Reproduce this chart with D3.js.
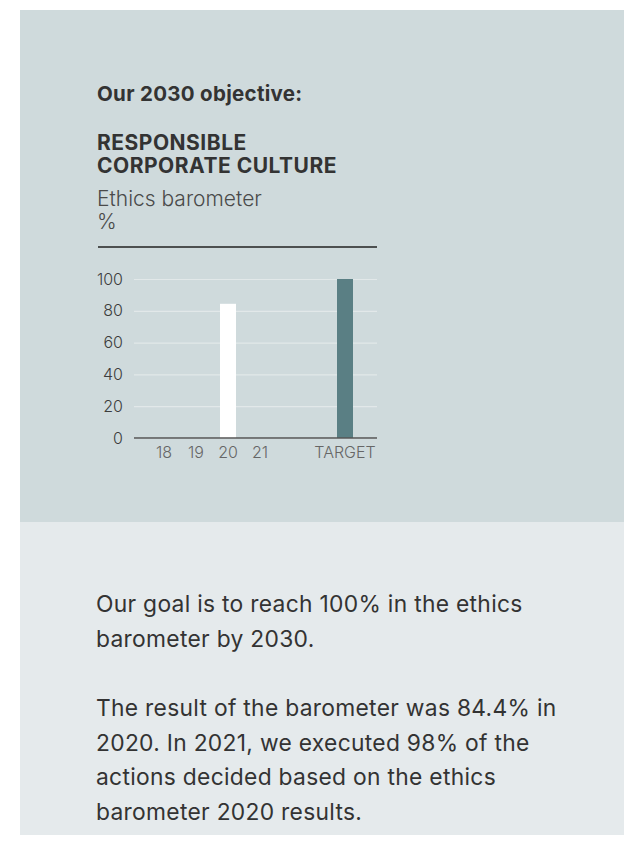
<!DOCTYPE html>
<html>
<head>
<meta charset="utf-8">
<script src="https://cdn.jsdelivr.net/npm/d3@7"></script>
<style>
  html, body { margin: 0; padding: 0; background: #ffffff; }
  svg { display: block; }
  text { font-family: Inter, Roboto, sans-serif; }
</style>
</head>
<body>
<svg id="chart" width="624" height="863"></svg>
<script>
// ---------- data ----------
const years = ["18", "19", "20", "21"];
const yearValues = [null, null, 84.4, null];
const targetLabel = "TARGET";
const targetValue = 100;
const yTicks = [0, 20, 40, 60, 80, 100];

const kicker = "Our 2030 objective:";
const titleLines = ["RESPONSIBLE", "CORPORATE CULTURE"];
const subtitleLines = ["Ethics barometer", "%"];
const bodyParagraphs = [
  ["Our goal is to reach 100% in the ethics", "barometer by 2030."],
  ["The result of the barometer was 84.4% in", "2020. In 2021, we executed 98% of the",
   "actions decided based on the ethics", "barometer 2020 results."]
];

// ---------- drawing ----------
const svg = d3.select("#chart");

// panels
svg.append("rect").attr("x", 20).attr("y", 10).attr("width", 604).attr("height", 512)
  .attr("fill", "#cfdadc");
svg.append("rect").attr("x", 20).attr("y", 522).attr("width", 604).attr("height", 313)
  .attr("fill", "#e5eaec");

// headings
svg.append("text").attr("x", 97).attr("y", 101)
  .attr("font-size", 20.5).attr("font-weight", 700).attr("fill", "#333")
  .attr("letter-spacing", 0.3)
  .text(kicker);

svg.append("g").selectAll("text").data(titleLines).join("text")
  .attr("x", 97).attr("y", (d, i) => 150 + i * 23)
  .attr("font-size", 21).attr("font-weight", 700).attr("fill", "#333")
  .attr("letter-spacing", 0.5)
  .text(d => d);

svg.append("g").selectAll("text").data(subtitleLines).join("text")
  .attr("x", 97).attr("y", (d, i) => 206 + i * 23)
  .attr("font-size", 21).attr("font-weight", 300).attr("fill", "#4a4a4a")
  .text(d => d);

// top rule
svg.append("line").attr("x1", 98).attr("x2", 377).attr("y1", 247).attr("y2", 247)
  .attr("stroke", "#222").attr("stroke-width", 1.3);

// scales
const left = 134, right = 377;
const y = d3.scaleLinear().domain([0, 100]).range([438, 279]);
const x = d3.scaleBand().domain(years).range([148, 276])
  .paddingInner(0.5).paddingOuter(0.25);
const xT = d3.scaleBand().domain([targetLabel]).range([313, 377])
  .paddingInner(0.75).paddingOuter(0.375);

// y axis with gridlines
const yAxis = svg.append("g").attr("transform", `translate(${left},0)`)
  .call(d3.axisLeft(y).tickValues(yTicks).tickSize(-(right - left)).tickPadding(11));
yAxis.select(".domain").remove();
yAxis.selectAll(".tick line").attr("stroke", "#e2e8e9").attr("stroke-width", 1.2);
yAxis.selectAll(".tick text").attr("font-size", 16).attr("font-weight", 300)
  .attr("fill", "#3d3d3d").attr("font-family", "Roboto, sans-serif");

// bars
svg.append("g").selectAll("rect")
  .data(years.map((d, i) => ({ k: d, v: yearValues[i] })).filter(d => d.v != null))
  .join("rect")
  .attr("x", d => x(d.k)).attr("width", x.bandwidth())
  .attr("y", d => y(d.v)).attr("height", d => y(0) - y(d.v))
  .attr("fill", "#ffffff");

svg.append("rect")
  .attr("x", xT(targetLabel)).attr("width", xT.bandwidth())
  .attr("y", y(targetValue)).attr("height", y(0) - y(targetValue))
  .attr("fill", "#5a7f84");

// baseline
svg.append("line").attr("x1", left).attr("x2", right).attr("y1", y(0)).attr("y2", y(0))
  .attr("stroke", "#555").attr("stroke-width", 1.5);

// x axes
function styleX(g) {
  g.select(".domain").remove();
  g.selectAll(".tick line").remove();
  g.selectAll(".tick text").attr("font-size", 16).attr("font-weight", 300)
    .attr("fill", "#666").attr("font-family", "Roboto, sans-serif");
}
svg.append("g").attr("transform", `translate(0,${y(0)})`)
  .call(d3.axisBottom(x).tickSize(0).tickPadding(9)).call(styleX);
svg.append("g").attr("transform", `translate(0,${y(0)})`)
  .call(d3.axisBottom(xT).tickSize(0).tickPadding(9)).call(styleX);

// body text
const bodyStarts = [612, 716];
bodyParagraphs.forEach((lines, p) => {
  svg.append("g").selectAll("text").data(lines).join("text")
    .attr("x", 96).attr("y", (d, i) => bodyStarts[p] + i * 34.7)
    .attr("font-size", 22.8).attr("font-weight", 400).attr("fill", "#333")
    .attr("letter-spacing", 0.3)
    .text(d => d);
});
</script>
</body>
</html>
